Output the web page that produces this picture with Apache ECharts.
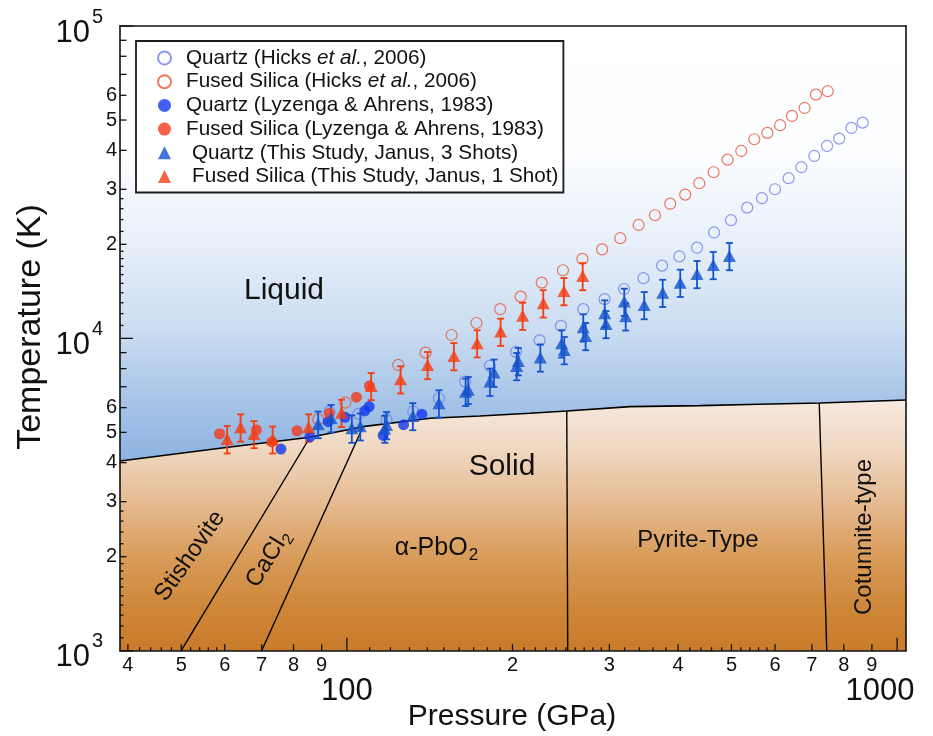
<!DOCTYPE html>
<html>
<head>
<meta charset="utf-8">
<script src="https://cdn.jsdelivr.net/npm/echarts@6/dist/echarts.min.js"></script>
<style>
  html, body { margin: 0; padding: 0; background: #fff; }
  #chart { width: 933px; height: 736px; }
</style>
</head>
<body>
<div id="chart"></div>
<script>
// ---- Shock temperature data, [pressure (GPa), temperature (K)] ----
const hicksQuartz = [[93,5830],[105,5730],[118,5510],[132,5830],[147,6430],[164,7270],[182,8160],[203,9050],[224,9850],[245,10960],[269,12400],[294,13350],[319,14390],[346,15580],[374,17090],[402,18290],[433,19510],[465,21830],[499,23890],[534,26210],[568,28100],[600,30020],[635,32560],[670,35310],[707,38370],[746,41300],[785,43590],[826,47170],[866,49060]];
const hicksFused = [[88.7,5510],[99.4,6230],[124,8220],[139,9000],[155,10250],[172,11200],[190,12400],[207,13600],[226,15080],[247,16520],[268,17960],[291,19260],[314,20920],[339,23070],[363,24780],[387,26990],[412,28850],[437,31380],[464,34020],[492,37350],[521,39810],[550,43400],[581,45470],[613,48130],[644,51540],[679,54660],[712,60300],[748,61830]];
const lyzengaQuartz = [[75.9,4420],[85.7,4840],[92.5,5410],[99.2,5590],[107.8,5860],[109.8,6050],[116.4,4890],[126.8,5290],[136.9,5720]];
const lyzengaFused = [[58.7,4950],[68.5,5090],[73.1,4660],[81.2,5060],[92.9,5760],[104.1,6480],[109.9,7040]];
// This study: [P, T, uncertainty in T]
const janusQuartz = [[88.7,5310,520],[93.6,5560,560],[102.1,5150,520],[105.8,5230,520],[117.2,5140,510],[118.1,5280,530],[131.8,5640,560],[147,6200,620],[164.4,6750,680],[166.2,6840,680],[182,7270,730],[185.1,7770,780],[203.5,8160,820],[204.9,8460,850],[224.7,8690,870],[245.7,9650,970],[248.4,9180,920],[268.9,10850,1090],[271.6,10180,1020],[294.2,12030,1200],[295.8,11120,1110],[319.3,13110,1310],[321.2,11770,1180],[347.1,12790,1280],[375,14000,1400],[403.6,15080,1510],[432.9,16080,1610],[463.4,17180,1720],[495.7,18360,1840]];
const janusFused = [[60.6,4760,480],[64.1,5190,520],[67.8,4940,490],[73.3,4750,470],[85.2,5190,520],[97.8,5780,580],[110.7,7040,700],[125.2,7400,740],[140.2,8220,820],[156.5,8780,880],[172.5,9650,960],[190.3,10510,1050],[208.7,11820,1180],[227.5,12960,1300],[248,14180,1420],[268.3,15840,1580]];

// ---- Phase diagram of SiO2 ----
const meltingP = [38.7, 58.8, 85.7, 107, 141.6, 174.5, 215, 251, 327, 438, 560, 724, 1038];
const meltingT = [4050, 4447, 4824, 5215, 5549, 5643, 5757, 5856, 6045, 6090, 6150, 6211, 6350];
const stishCaCl2 = [[50,1000],[85.7,4824]];
const caCl2PbO2 = [[70,1000],[107,5215]];
const pbO2Pyrite = [[252,1000],[251,5856]];
const pyriteCotunnite = [[745,1000],[742,1300],[722,6200]];

// ---- Axes ----
const X_MIN = 38.7, X_MAX = 1038, Y_MIN = 1000, Y_MAX = 100000;
const xMajorTicks = [100, 1000];
const xMajorLabels = ['100', '1000'];
const xLabelTicks = [40,50,60,70,80,90,200,300,400,500,600,700,800,900];
const xTickLabels = ['4','5','6','7','8','9','2','3','4','5','6','7','8','9'];
const xMinorTicks = [42,44,46,48,52,54,56,58,110,120,130,140,150,160,170,180,190,210,220,230,240,250,260,270,280,290,320,340,360,380,420,440,460,480,520,540,560,580];
const yMajorTicks = [1000, 10000, 100000];
const yMajorExponents = ['3', '4', '5'];
const yLabelTicks = [2000,3000,4000,5000,6000,7000,8000,9000,20000,30000,40000,50000,60000,70000,80000,90000];
const yTickLabels = ['2','3','4','5','6','','','','2','3','4','5','6','','',''];
const yMinorTicks = [1100,1200,1300,1400,1500,1600,1700,1800,1900,2200,2400,2600,2800,11000,12000,13000,14000,15000,16000,17000,18000,19000,22000,24000,26000,28000];

const FONT = '"Liberation Sans", Arial, Helvetica, sans-serif';
const INK = '#111';
const TICK_LEN = [13, 6.5, 3.5];

const chart = echarts.init(document.getElementById('chart'), null, { renderer: 'canvas' });
const LG = echarts.graphic.LinearGradient;

function xTickItem(params, api) {
  const kind = api.value(2);
  const p = api.coord([api.value(0), api.value(1)]);
  const children = [{
    type: 'line',
    shape: { x1: p[0], y1: p[1], x2: p[0], y2: p[1] - TICK_LEN[kind] },
    style: { stroke: INK, lineWidth: 1.3 }
  }];
  if (kind === 1) {
    const label = xTickLabels[params.dataIndex - xMajorTicks.length];
    children.push({ type: 'text', x: p[0], y: p[1] + 15,
      style: { text: label, font: '20px ' + FONT, fill: INK, align: 'center', verticalAlign: 'middle' } });
  } else if (kind === 0) {
    const i = params.dataIndex;
    children.push({ type: 'text', x: p[0] + (i === 1 ? -17 : 0), y: p[1] + 41,
      style: { text: xMajorLabels[i], font: '31px ' + FONT, fill: INK, align: 'center', verticalAlign: 'middle' } });
  }
  return { type: 'group', children };
}

function yTickItem(params, api) {
  const kind = api.value(2);
  const p = api.coord([api.value(0), api.value(1)]);
  const children = [{
    type: 'line',
    shape: { x1: p[0], y1: p[1], x2: p[0] + TICK_LEN[kind], y2: p[1] },
    style: { stroke: INK, lineWidth: 1.3 }
  }];
  if (kind === 1) {
    const label = yTickLabels[params.dataIndex - yMajorTicks.length];
    if (label) {
      children.push({ type: 'text', x: p[0] - 3, y: p[1],
        style: { text: label, font: '20px ' + FONT, fill: INK, align: 'right', verticalAlign: 'middle' } });
    }
  } else if (kind === 0) {
    children.push({ type: 'text', x: p[0] - 30, y: p[1] + 7,
      style: { text: '10', font: '31px ' + FONT, fill: INK, align: 'right', verticalAlign: 'middle' } });
    children.push({ type: 'text', x: p[0] - 28, y: p[1] - 9,
      style: { text: yMajorExponents[params.dataIndex], font: '20px ' + FONT, fill: INK, align: 'left', verticalAlign: 'middle' } });
  }
  return { type: 'group', children };
}

function errorBarItem(color) {
  return function (params, api) {
    const p = api.value(0), t = api.value(1), e = api.value(2);
    const hi = api.coord([p, t + e]);
    const lo = api.coord([p, t - e]);
    const cw = 3.5;
    const st = { stroke: color, lineWidth: 1.8 };
    return { type: 'group', children: [
      { type: 'line', shape: { x1: hi[0], y1: hi[1], x2: lo[0], y2: lo[1] }, style: st },
      { type: 'line', shape: { x1: hi[0] - cw, y1: hi[1], x2: hi[0] + cw, y2: hi[1] }, style: st },
      { type: 'line', shape: { x1: lo[0] - cw, y1: lo[1], x2: lo[0] + cw, y2: lo[1] }, style: st }
    ] };
  };
}

const boundaryStyle = { color: '#000', width: 1.4 };
function boundary(name, data) {
  return { name, type: 'line', data, symbol: 'none', z: 3, silent: true,
    lineStyle: boundaryStyle, animation: false };
}

// Plain text label
function label(text, x, y, size, rotation) {
  return { type: 'text', x, y, rotation: rotation || 0, z: 100,
    style: { text, font: size + 'px ' + FONT, fill: INK, align: 'center', verticalAlign: 'middle' } };
}
// Chemical formula label: main part followed by a lowered "2"
function formula(main, x, y, size, rotation, mainWidth) {
  const sub = Math.round(size * 0.68);
  const total = mainWidth + sub * 0.556;
  return { type: 'group', x, y, rotation: rotation || 0, z: 100, children: [
    { type: 'text', x: -total / 2, y: 0, z: 100,
      style: { text: main, font: size + 'px ' + FONT, fill: INK, align: 'left', verticalAlign: 'middle' } },
    { type: 'text', x: -total / 2 + mainWidth + 1, y: size * 0.3, z: 100,
      style: { text: '2', font: sub + 'px ' + FONT, fill: INK, align: 'left', verticalAlign: 'middle' } }
  ] };
}

const C = {
  hicksQ: '#7180ea', hicksF: '#e8583c',
  lyzQ: '#1237ee', lyzF: '#f23a1c',
  janQ: '#1553cc', janF: '#f53d10'
};

const axisBase = {
  type: 'log', logBase: 10,
  axisTick: { show: false }, axisLabel: { show: false },
  splitLine: { show: false }, minorTick: { show: false }, minorSplitLine: { show: false },
  axisLine: { show: true, onZero: false, lineStyle: { color: INK, width: 1.6 } },
  z: 10
};

const legendNames = [
  'Quartz (Hicks et al., 2006)',
  'Fused Silica (Hicks et al., 2006)',
  'Quartz (Lyzenga & Ahrens, 1983)',
  'Fused Silica (Lyzenga & Ahrens, 1983)',
  'Quartz (This Study, Janus, 3 Shots)',
  'Fused Silica (This Study, Janus, 1 Shot)'
];

const LEG_FS = 20.7;

const option = {
  animation: false,
  backgroundColor: '#fff',
  grid: {
    left: 120, top: 26, width: 786, height: 624.7, show: true, borderWidth: 0,
    backgroundColor: new LG(0, 26, 0, 651, [
      { offset: 0, color: '#ffffff' },
      { offset: 0.21, color: '#fbfdff' },
      { offset: 0.36, color: '#e5eef9' },
      { offset: 0.49, color: '#c9dcf1' },
      { offset: 0.6, color: '#a6c4e8' },
      { offset: 0.7, color: '#8cb2e0' },
      { offset: 1, color: '#7ea8dc' }
    ], true)
  },
  xAxis: [
    Object.assign({}, axisBase, { position: 'bottom', min: X_MIN, max: X_MAX }),
    Object.assign({}, axisBase, { position: 'top', min: X_MIN, max: X_MAX })
  ],
  yAxis: [
    Object.assign({}, axisBase, { position: 'left', min: Y_MIN, max: Y_MAX }),
    Object.assign({}, axisBase, { position: 'right', min: Y_MIN, max: Y_MAX })
  ],
  legend: {
    data: legendNames,
    orient: 'vertical',
    left: 136, top: 41,
    padding: [6, 5, 5, 21],
    itemGap: 1.7,
    itemWidth: 13, itemHeight: 13,
    selectedMode: false,
    backgroundColor: '#fff',
    borderColor: '#1a1a1a', borderWidth: 1.8, borderRadius: 0,
    formatter: function (name) {
      const pad = name.indexOf('This Study') >= 0 ? '{w| }' : '{g| }';
      return pad + '{n|' + name.replace('et al.', '}{i|et al.}{n|') + '}';
    },
    textStyle: {
      fontFamily: FONT, fontSize: LEG_FS, color: INK, lineHeight: 22,
      rich: {
        g: { width: 10, fontSize: LEG_FS, lineHeight: 22 },
        w: { width: 16, fontSize: LEG_FS, lineHeight: 22 },
        n: { fontFamily: FONT, fontSize: LEG_FS, color: INK, lineHeight: 22 },
        i: { fontFamily: FONT, fontSize: LEG_FS, color: INK, fontStyle: 'italic', lineHeight: 22 }
      }
    }
  },
  graphic: {
    z: 100,
    elements: [
      label('Pressure (GPa)', 512, 717, 30),
      label('Temperature (K)', 31, 327, 34, Math.PI / 2),
      label('Liquid', 284, 291, 30),
      label('Solid', 502, 467, 30),
      label('Stishovite', 190, 556, 24, 55 * Math.PI / 180),
      formula('CaCl', 268, 559, 24, 58 * Math.PI / 180, 53),
      formula('\u03b1-PbO', 436, 548, 25, 0, 73),
      label('Pyrite-Type', 698, 540, 24),
      label('Cotunnite-type', 864, 537, 24, Math.PI / 2)
    ]
  },
  series: [
    {
      name: 'Melting curve', type: 'line', symbol: 'none', z: 1, silent: true,
      data: meltingP.map((p, i) => [p, meltingT[i]]),
      lineStyle: { color: '#000', width: 1.6 },
      areaStyle: {
        origin: Y_MIN, opacity: 1,
        color: new LG(0, 400, 0, 651, [
          { offset: 0, color: '#f6e9de' },
          { offset: 0.2, color: '#f0d7c0' },
          { offset: 0.4, color: '#e6bc93' },
          { offset: 0.62, color: '#d99c5a' },
          { offset: 0.85, color: '#cd8536' },
          { offset: 1, color: '#c97b2a' }
        ], true)
      }
    },
    boundary('Stishovite-CaCl2', stishCaCl2),
    boundary('CaCl2-PbO2', caCl2PbO2),
    boundary('PbO2-Pyrite', pbO2Pyrite),
    boundary('Pyrite-Cotunnite', pyriteCotunnite),
    {
      name: legendNames[0], type: 'scatter', data: hicksQuartz, symbol: 'circle', symbolSize: 11, z: 4,
      itemStyle: { color: 'rgba(255,255,255,0)', borderColor: C.hicksQ, borderWidth: 1.2 }
    },
    {
      name: legendNames[1], type: 'scatter', data: hicksFused, symbol: 'circle', symbolSize: 11, z: 4,
      itemStyle: { color: 'rgba(255,255,255,0)', borderColor: C.hicksF, borderWidth: 1.2 }
    },
    {
      name: legendNames[2], type: 'scatter', data: lyzengaQuartz, symbol: 'circle', symbolSize: 11, z: 5,
      itemStyle: { color: C.lyzQ }
    },
    {
      name: legendNames[3], type: 'scatter', data: lyzengaFused, symbol: 'circle', symbolSize: 11, z: 5,
      itemStyle: { color: C.lyzF }
    },
    {
      name: 'Quartz error', type: 'custom', z: 5, silent: true, clip: false,
      data: janusQuartz, encode: { x: 0, y: 1 }, renderItem: errorBarItem(C.janQ)
    },
    {
      name: 'Fused error', type: 'custom', z: 5, silent: true, clip: false,
      data: janusFused, encode: { x: 0, y: 1 }, renderItem: errorBarItem(C.janF)
    },
    {
      name: legendNames[4], type: 'scatter', symbol: 'triangle', symbolSize: [13, 12], z: 6,
      data: janusQuartz.map(d => [d[0], d[1]]), itemStyle: { color: C.janQ }
    },
    {
      name: legendNames[5], type: 'scatter', symbol: 'triangle', symbolSize: [13, 12], z: 6,
      data: janusFused.map(d => [d[0], d[1]]), itemStyle: { color: C.janF }
    },
    {
      name: 'x ticks', type: 'custom', z: 20, silent: true, clip: false,
      encode: { x: 0, y: 1 },
      data: [].concat(
        xMajorTicks.map(v => [v, Y_MIN, 0]),
        xLabelTicks.map(v => [v, Y_MIN, 1]),
        xMinorTicks.map(v => [v, Y_MIN, 2])),
      renderItem: xTickItem
    },
    {
      name: 'y ticks', type: 'custom', z: 20, silent: true, clip: false,
      encode: { x: 0, y: 1 },
      data: [].concat(
        yMajorTicks.map(v => [X_MIN, v, 0]),
        yLabelTicks.map(v => [X_MIN, v, 1]),
        yMinorTicks.map(v => [X_MIN, v, 2])),
      renderItem: yTickItem
    }
  ]
};

chart.setOption(option);
</script>
</body>
</html>
